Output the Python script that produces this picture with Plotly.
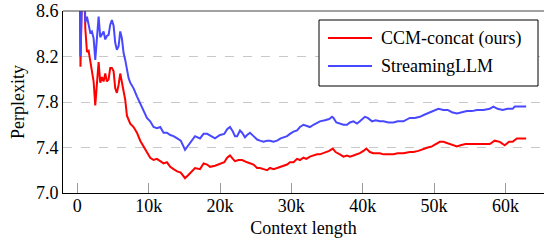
import plotly.graph_objects as go

# ---- data (context length in thousands of tokens, perplexity) ----
red_x = [0.25, 0.45, 0.8, 1.12, 1.36, 1.59, 1.82, 2.05, 2.29, 2.52, 2.75, 2.99, 3.22, 3.45, 3.69, 3.92,
         4.15, 4.39, 4.62, 4.85, 5.09, 5.32, 5.55, 5.79, 6.02, 6.25, 6.49, 6.72, 6.96, 7.19, 7.42, 7.89,
         8.36, 8.82, 9.29, 9.76, 10.22, 10.69, 11.16, 11.62, 12.09, 12.56, 13.03, 13.49, 14.0, 14.5,
         15.1, 15.6, 16.1, 16.5, 17.2, 17.7, 18.2, 18.6, 19.3, 20.0, 20.6, 21.0, 21.4, 21.8, 22.1, 22.6,
         23.1, 23.8, 24.2, 24.7, 25.2, 25.6, 26.1, 26.6, 27.0, 27.5, 28.0, 28.5, 28.9, 29.4, 29.8, 30.3,
         30.8, 31.2, 31.7, 32.1, 32.6, 33.1, 33.6, 34.0, 34.5, 34.9, 35.3, 35.8, 36.2, 36.8, 37.3, 37.8,
         38.2, 38.7, 39.2, 39.6, 40.1, 40.5, 41.0, 41.5, 42.0, 42.4, 42.9, 43.6, 44.3, 44.9, 45.7, 46.6,
         47.1, 47.8, 48.5, 49.1, 49.7, 50.2, 50.8, 51.3, 51.8, 52.5, 53.2, 53.7, 54.4, 55.2, 56.0, 56.9,
         57.8, 58.5, 59.2, 59.9, 60.5, 61.0, 61.6, 62.3, 62.9]
red_y = [9.6, 8.11, 9.3, 8.45, 8.24, 8.25, 8.17, 8.08, 7.98, 7.77, 7.98, 8.15, 7.97, 8.02, 7.98, 8.05,
         7.98, 8.00, 8.10, 8.10, 8.07, 7.92, 7.88, 7.95, 8.05, 7.98, 7.88, 7.82, 7.68, 7.65, 7.61, 7.58,
         7.53, 7.46, 7.41, 7.35, 7.31, 7.29, 7.30, 7.28, 7.26, 7.27, 7.23, 7.21, 7.19, 7.18,
         7.13, 7.16, 7.19, 7.22, 7.21, 7.26, 7.25, 7.23, 7.24, 7.26, 7.27, 7.31, 7.33, 7.30, 7.28, 7.29,
         7.29, 7.27, 7.26, 7.25, 7.22, 7.22, 7.21, 7.20, 7.22, 7.21, 7.22, 7.23, 7.24, 7.25, 7.27, 7.27,
         7.30, 7.29, 7.31, 7.30, 7.32, 7.33, 7.34, 7.34, 7.35, 7.36, 7.37, 7.39, 7.36, 7.34, 7.32, 7.33,
         7.32, 7.33, 7.34, 7.35, 7.37, 7.39, 7.36, 7.35, 7.35, 7.35, 7.34, 7.34, 7.34, 7.35, 7.35, 7.36,
         7.36, 7.37, 7.39, 7.40, 7.41, 7.43, 7.45, 7.45, 7.44, 7.43, 7.41, 7.42, 7.43, 7.43, 7.43, 7.43,
         7.43, 7.46, 7.45, 7.42, 7.45, 7.45, 7.48, 7.48, 7.48]

blue_x = [0.25, 0.45, 0.9, 1.12, 1.36, 1.59, 1.82, 2.05, 2.29, 2.52, 2.75, 2.99, 3.22, 3.45, 3.69, 3.92,
          4.15, 4.39, 4.62, 4.85, 5.09, 5.32, 5.55, 5.79, 6.02, 6.25, 6.49, 6.72, 6.96, 7.19, 7.42, 7.89,
          8.36, 8.82, 9.29, 9.76, 10.22, 10.69, 11.16, 11.62, 12.09, 12.56, 13.03, 13.49, 14.0, 14.5,
          15.1, 15.6, 16.1, 16.5, 17.2, 17.7, 18.2, 18.9, 19.3, 20.0, 20.6, 21.0, 21.4, 21.8, 22.1, 22.4,
          22.8, 23.1, 23.5, 23.8, 24.2, 24.7, 25.2, 25.6, 26.1, 26.6, 27.0, 27.5, 28.0, 28.5, 28.9, 29.4,
          29.8, 30.3, 30.8, 31.2, 31.7, 32.1, 32.6, 33.1, 33.6, 34.0, 34.7, 35.3, 35.7, 35.9, 36.3, 36.8,
          37.3, 37.8, 38.2, 38.7, 39.2, 39.6, 40.3, 40.7, 41.3, 41.8, 42.4, 42.9, 43.6, 44.3, 44.9, 45.7,
          46.6, 47.3, 48.0, 48.7, 49.4, 50.0, 50.6, 51.3, 51.9, 52.5, 53.2, 53.9, 54.6, 55.3, 56.0, 56.9,
          57.8, 58.3, 58.9, 59.6, 60.3, 61.0, 61.3, 62.0, 62.9]
blue_y = [9.6, 8.20, 9.3, 8.50, 8.55, 8.48, 8.41, 8.42, 8.36, 8.17, 8.33, 8.55, 8.37, 8.39, 8.42, 8.35,
          8.38, 8.39, 8.48, 8.52, 8.47, 8.32, 8.26, 8.29, 8.42, 8.36, 8.23, 8.17, 8.08, 8.01, 7.97, 7.92,
          7.85, 7.79, 7.72, 7.66, 7.63, 7.58, 7.57, 7.58, 7.53, 7.53, 7.51, 7.50, 7.48, 7.46,
          7.38, 7.42, 7.47, 7.50, 7.48, 7.52, 7.52, 7.49, 7.48, 7.51, 7.52, 7.56, 7.58, 7.54, 7.50, 7.50,
          7.55, 7.53, 7.49, 7.51, 7.53, 7.50, 7.47, 7.46, 7.45, 7.46, 7.46, 7.45, 7.46, 7.48, 7.49, 7.50,
          7.52, 7.54, 7.55, 7.58, 7.60, 7.59, 7.58, 7.60, 7.62, 7.63, 7.64, 7.65, 7.67, 7.66, 7.62, 7.61,
          7.60, 7.60, 7.62, 7.63, 7.61, 7.63, 7.67, 7.66, 7.63, 7.64, 7.63, 7.63, 7.62, 7.62, 7.63, 7.63,
          7.66, 7.66, 7.67, 7.69, 7.71, 7.72, 7.74, 7.73, 7.73, 7.71, 7.70, 7.71, 7.72, 7.72, 7.73, 7.73,
          7.74, 7.76, 7.74, 7.73, 7.74, 7.74, 7.76, 7.76, 7.76]

series_names = ["CCM-concat (ours)", "StreamingLLM"]
x_tick_vals = [0, 10000, 20000, 30000, 40000, 50000, 60000]
x_tick_text = ["0", "10k", "20k", "30k", "40k", "50k", "60k"]
y_tick_vals = [7.0, 7.4, 7.8, 8.2, 8.6]
y_tick_text = ["7.0", "7.4", "7.8", "8.2", "8.6"]

RED = "#ff0000"
BLUE = "#4848ff"
FONT = "'Liberation Serif', 'Times New Roman', Times, serif"
TXT = dict(family=FONT, size=18, color="black")

fig = go.Figure()
fig.add_trace(go.Scatter(x=[v * 1000 for v in red_x], y=red_y, mode="lines",
                         line=dict(color=RED, width=2), name=series_names[0], showlegend=False))
fig.add_trace(go.Scatter(x=[v * 1000 for v in blue_x], y=blue_y, mode="lines",
                         line=dict(color=BLUE, width=2), name=series_names[1], showlegend=False))

W, H = 544, 243
# plot-area geometry in page pixels
L, R, T, B = 63, 544, 11, 193
def fx(px):
    return (px - L) / (R - L)
def fy(py):
    return 1 - (py - T) / (B - T)

shapes = [
    dict(type="line", xref="paper", yref="paper", x0=0, x1=1, y0=1, y1=1,
         line=dict(color="#444444", width=1)),
    dict(type="rect", xref="paper", yref="paper", x0=fx(319), x1=fx(538), y0=fy(86), y1=fy(20),
         line=dict(color="black", width=1), fillcolor="white"),
    dict(type="line", xref="paper", yref="paper", x0=fx(328), x1=fx(372), y0=fy(38), y1=fy(38),
         line=dict(color=RED, width=2)),
    dict(type="line", xref="paper", yref="paper", x0=fx(328), x1=fx(372), y0=fy(66), y1=fy(66),
         line=dict(color=BLUE, width=2)),
]
annotations = [
    dict(xref="paper", yref="paper", x=fx(379), y=fy(38), text=series_names[0], showarrow=False,
         xanchor="left", yanchor="middle", font=TXT),
    dict(xref="paper", yref="paper", x=fx(379), y=fy(66), text=series_names[1], showarrow=False,
         xanchor="left", yanchor="middle", font=TXT),
]

fig.update_layout(
    width=W, height=H,
    margin=dict(l=L, r=0, t=T, b=H - B),
    paper_bgcolor="white", plot_bgcolor="white",
    font=TXT,
    shapes=shapes, annotations=annotations,
    showlegend=False,
)
fig.update_xaxes(
    range=[-2000, 65400], tickvals=x_tick_vals, ticktext=x_tick_text, tickfont=TXT,
    ticklabelstandoff=-4,
    showline=True, linecolor="black", linewidth=1,
    ticks="inside", ticklen=10, tickcolor="#999999", tickwidth=1,
    showgrid=False, zeroline=False,
    title=dict(text="Context length", standoff=6, font=TXT),
)
fig.update_yaxes(
    range=[7.0, 8.6], tickvals=y_tick_vals, ticktext=y_tick_text, tickfont=TXT,
    ticklabeloverflow="allow",
    showline=True, linecolor="black", linewidth=1,
    ticks="", showgrid=True, gridcolor="#c8c8c8", griddash="dash", gridwidth=1,
    zeroline=False,
    title=dict(text="Perplexity", standoff=6, font=TXT),
)

# remove the default 8px page margin so the figure sits at the window's top-left corner
fig.write_html("out.html", config={"displayModeBar": False},
               post_script="document.body.style.margin='0';")
